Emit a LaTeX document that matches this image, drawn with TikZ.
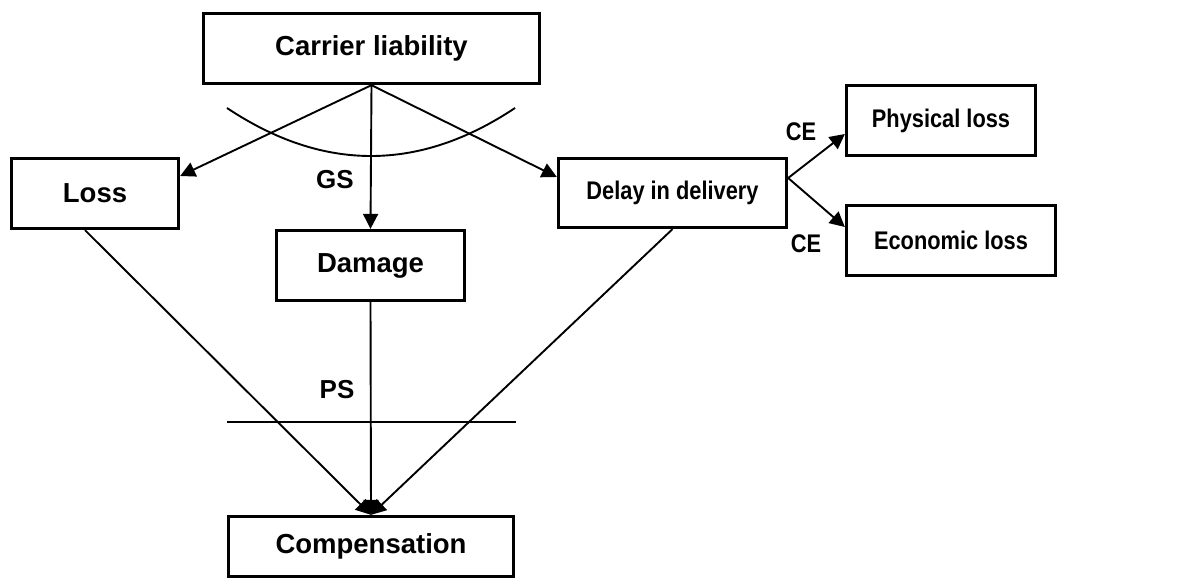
\documentclass[tikz,border=0pt]{standalone}
\usepackage{fontspec}
\usepackage{graphicx}
\setmainfont{Liberation Sans}
\usetikzlibrary{arrows.meta}
\newcommand{\nar}[1]{\scalebox{0.855}[1]{#1}}
\tikzset{
  box/.style={draw, line width=3.3pt, rectangle, inner sep=0pt, align=center,
              font=\fontsize{27.5}{33}\selectfont\bfseries},
  nbox/.style={box, font=\fontsize{25.5}{30}\selectfont\bfseries},
  conn/.style={line width=1.9pt},
  arr/.style={conn, -{Triangle[length=15pt,width=15pt]}},
  lab/.style={font=\fontsize{26}{30}\selectfont\bfseries, inner sep=0pt},
  nlab/.style={font=\fontsize{25.5}{30}\selectfont\bfseries, inner sep=0pt}
}
\begin{document}
\begin{tikzpicture}[x=1pt,y=-1pt]
  \useasboundingbox (0,0) rectangle (1196,588);

  % boxes
  \node[box, minimum width=336pt, minimum height=70pt] (carrier) at (371.5,48.5) {Carrier liability};
  \node[box, minimum width=167pt, minimum height=70pt] (loss) at (95,193.5) {Loss};
  \node[box, minimum width=188pt, minimum height=70pt] (damage) at (370.5,265.5) {Damage};
  \node[nbox, minimum width=228pt, minimum height=69pt] (delay) at (672.5,193) {\nar{Delay in delivery}};
  \node[nbox, minimum width=189pt, minimum height=70pt] (phys) at (941,120.5) {\nar{Physical loss}};
  \node[nbox, minimum width=209pt, minimum height=70pt] (econ) at (951,240.5) {\nar{Economic loss}};
  \node[box, minimum width=285pt, minimum height=60pt] (comp) at (371,546.5) {Compensation};

  % labels
  \node[lab] (gs) at (335,180) {GS};
  \node[lab] (ps) at (337,390) {PS};
  \node[nlab] (ce1) at (801,132) {\nar{CE}};
  \node[nlab] (ce2) at (806,244) {\nar{CE}};

  % section marks
  \coordinate (cl) at (227,108);
  \coordinate (cr) at (515,108);
  \draw[conn] (cl) .. controls (323,172) and (419,172) .. (cr);
  \coordinate (hl) at (227,422);
  \coordinate (hr) at (516,422);
  \draw[conn] (hl) -- (hr);

  % connectors from carrier liability
  \draw[arr] (carrier.south) -- ([yshift=17.5pt]loss.east);
  \draw[arr] (carrier.south) -- (damage.north);
  \draw[arr] (carrier.south) -- ([yshift=16pt]delay.west);

  % consequences of delay
  \draw[arr] ([yshift=15pt]delay.east) -- ([yshift=-13.5pt]phys.west);
  \draw[arr] ([yshift=15pt]delay.east) -- ([yshift=13.5pt]econ.west);

  % into compensation
  \draw[arr] ([xshift=-10pt]loss.south) -- (comp.north);
  \draw[arr] (damage.south) -- (comp.north);
  \draw[arr] (delay.south) -- (comp.north);
\end{tikzpicture}
\end{document}
